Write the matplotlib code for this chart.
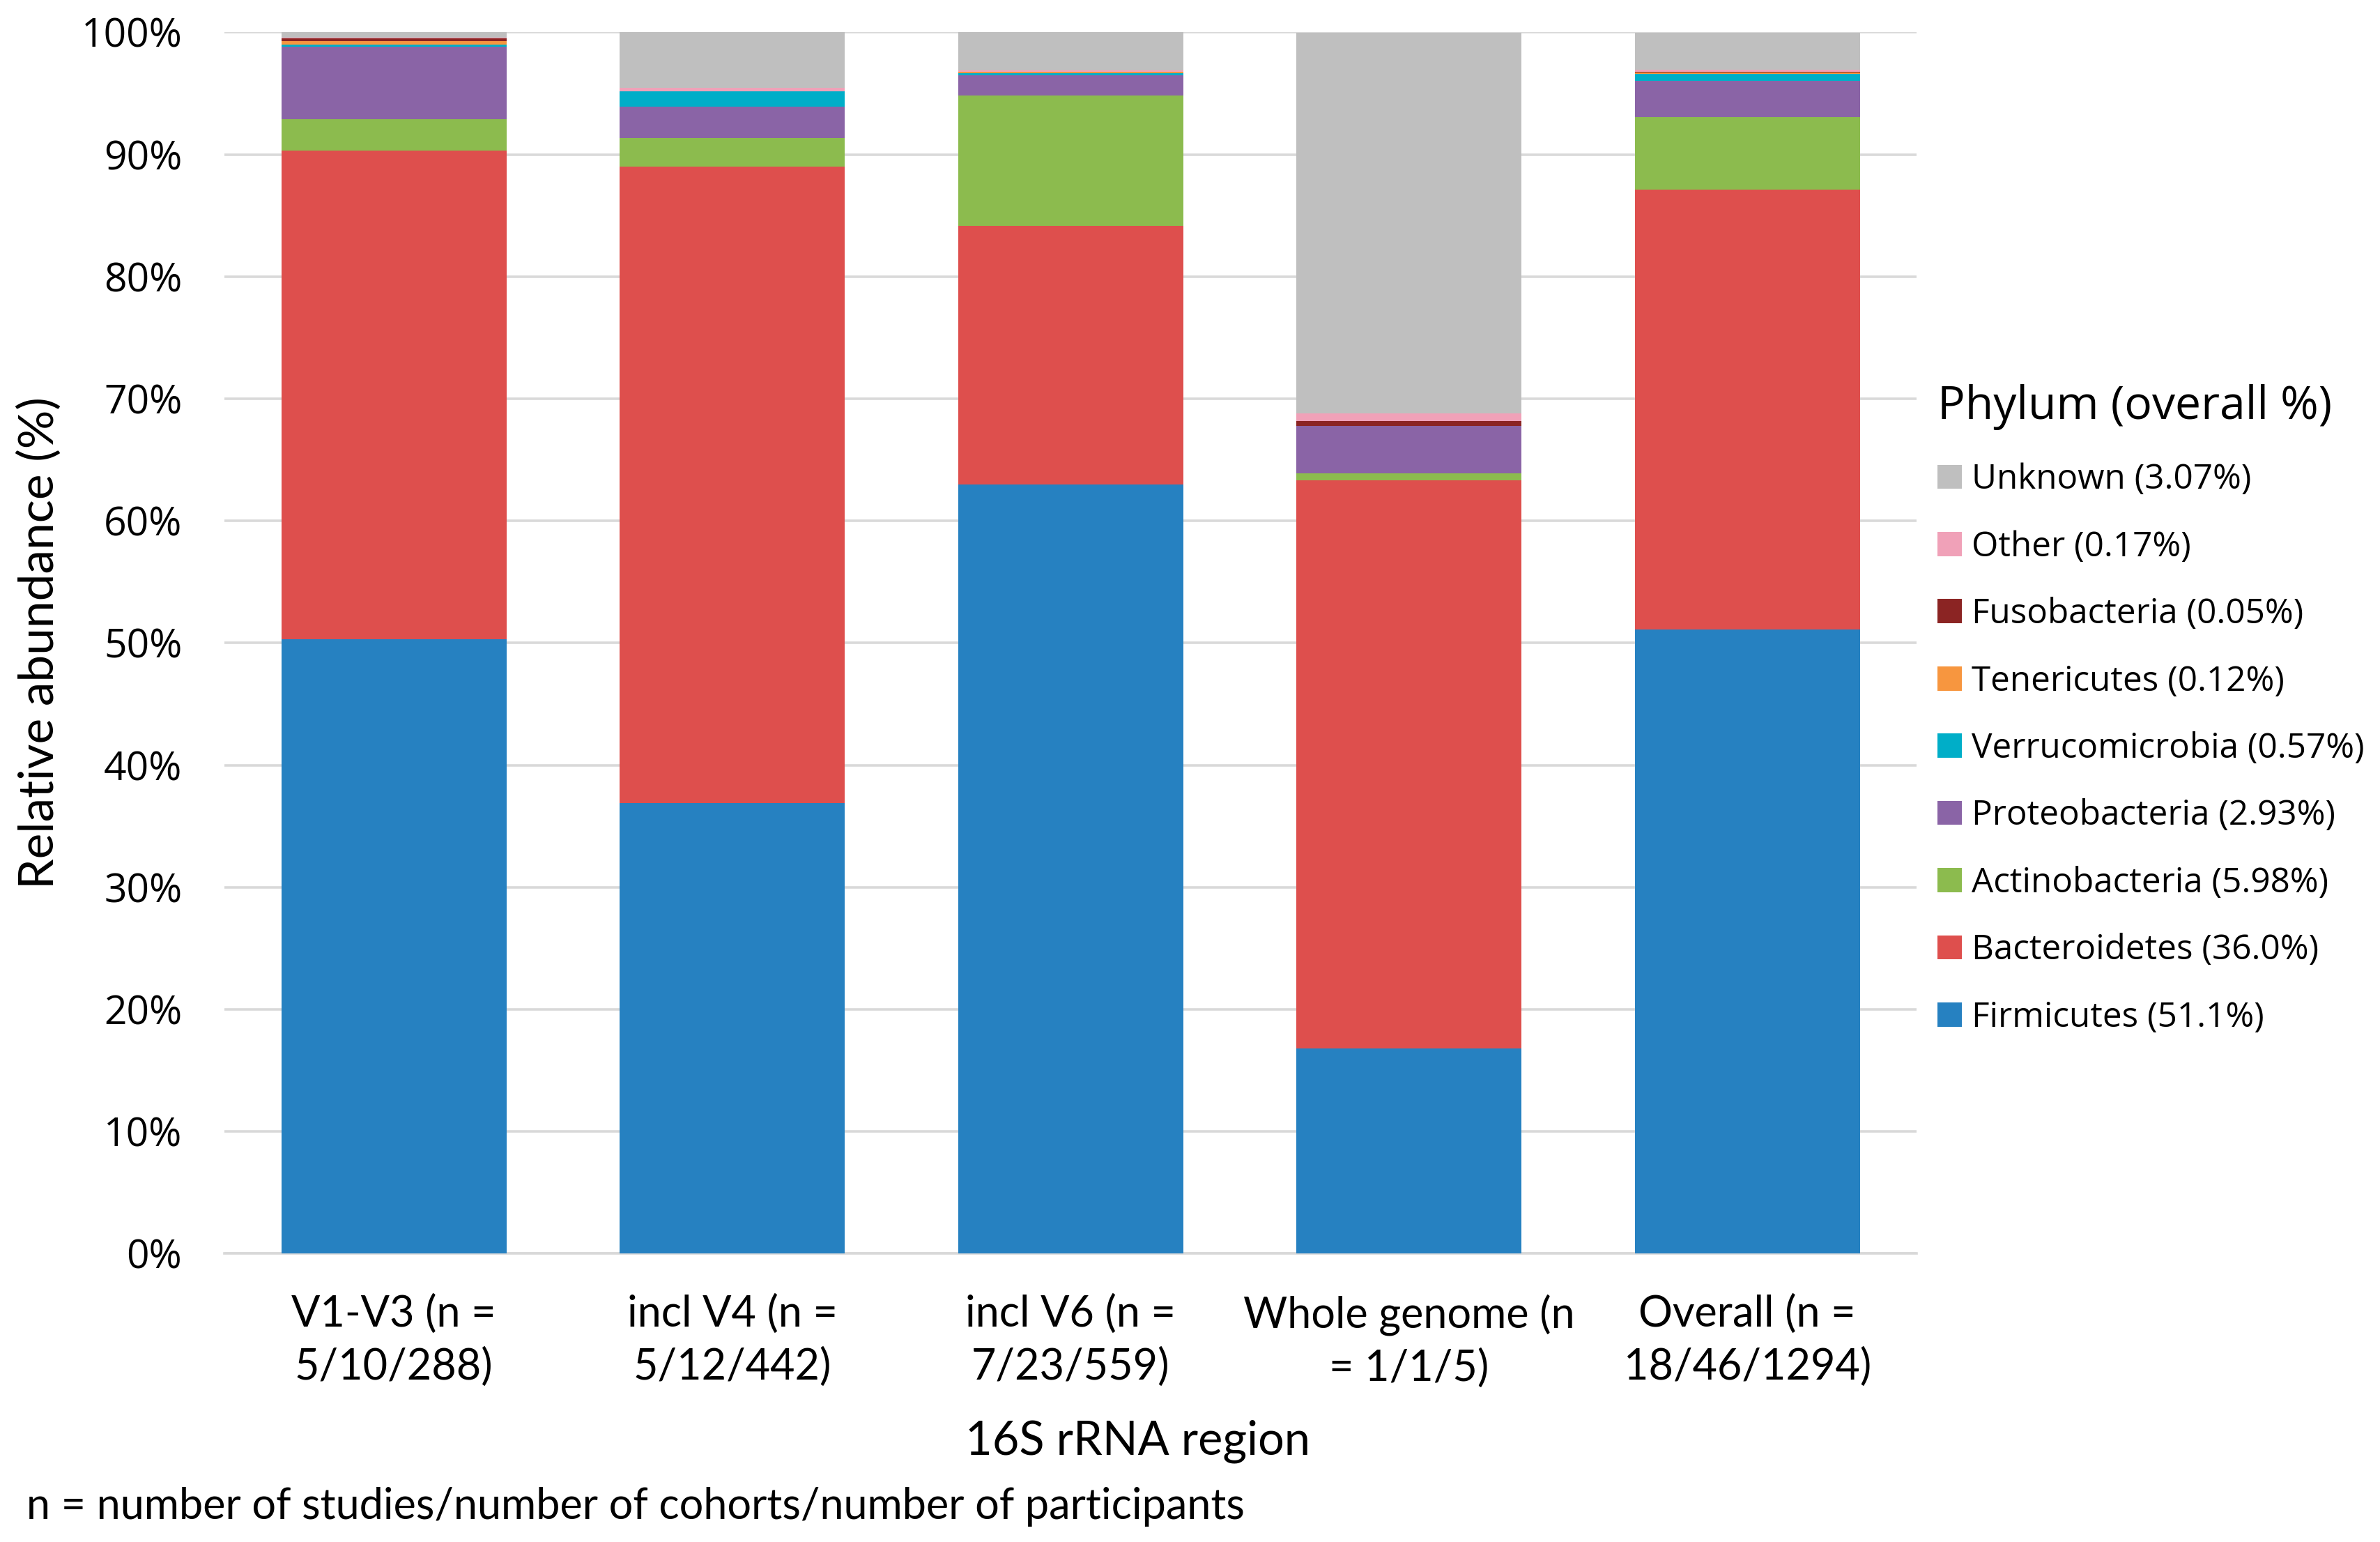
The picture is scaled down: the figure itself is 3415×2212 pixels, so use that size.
import numpy as np
import matplotlib
matplotlib.use("Agg")
import matplotlib.pyplot as plt
from matplotlib.patches import Patch

# ──────────────────────────────────────────────────────────────────
# Data (relative abundance, %)
# ──────────────────────────────────────────────────────────────────
regions = [
    "V1-V3 (n =\n5/10/288)",
    "incl V4 (n =\n5/12/442)",
    "incl V6 (n =\n7/23/559)",
    "Whole genome (n\n= 1/1/5)",
    "Overall (n =\n18/46/1294)",
]

firmicutes      = [50.3, 36.9, 63.0, 16.8, 51.1]
bacteroidetes   = [40.0, 52.1, 21.15, 46.5, 36.0]
actinobacteria  = [2.6, 2.33, 10.7, 0.6, 5.98]
proteobacteria  = [5.9, 2.56, 1.63, 3.88, 2.93]
verrucomicrobia = [0.17, 1.3, 0.17, 0.0, 0.57]
tenericutes     = [0.34, 0.0, 0.11, 0.0, 0.12]
fusobacteria    = [0.2, 0.0, 0.0, 0.4, 0.05]
other           = [0.07, 0.25, 0.13, 0.6, 0.17]
unknown         = [0.42, 4.56, 3.11, 31.2, 3.07]

phyla = [
    ("Firmicutes (51.1%)",      firmicutes,      "#2681C1"),
    ("Bacteroidetes (36.0%)",   bacteroidetes,   "#DE4F4D"),
    ("Actinobacteria (5.98%)",  actinobacteria,  "#8CBB4E"),
    ("Proteobacteria (2.93%)",  proteobacteria,  "#8A64A6"),
    ("Verrucomicrobia (0.57%)", verrucomicrobia, "#00AEC8"),
    ("Tenericutes (0.12%)",     tenericutes,     "#F7963F"),
    ("Fusobacteria (0.05%)",    fusobacteria,    "#8B2423"),
    ("Other (0.17%)",           other,           "#F0A1B8"),
    ("Unknown (3.07%)",         unknown,         "#BFBFBF"),
]

TICK_FONT  = ["Open Sans", "DejaVu Sans"]
TITLE_FONT = ["Lato", "DejaVu Sans"]

# ──────────────────────────────────────────────────────────────────
# Plot
# ──────────────────────────────────────────────────────────────────
fig = plt.figure(figsize=(17.08, 11.06), dpi=200)
ax = fig.add_axes([0.0944, 0.187, 0.7106, 0.792])

x = np.arange(len(regions))
bottom = np.zeros(len(regions))
handles = []
for label, vals, color in phyla:
    vals = np.array(vals)
    ax.bar(x, vals, bottom=bottom, width=0.665, color=color, zorder=3)
    bottom += vals
    handles.append(Patch(facecolor=color, label=label))

ax.set_xlim(-0.5, len(regions) - 0.5)
ax.set_ylim(0, 100)
ax.set_yticks(np.arange(0, 101, 10))
ax.set_yticklabels([f"{v}%" for v in range(0, 101, 10)], fontfamily=TICK_FONT, fontsize=20.5)
ax.set_xticks(x)
ax.set_xticklabels(regions, fontfamily=TITLE_FONT, fontsize=22, linespacing=1.4)
ax.tick_params(axis="both", length=0)
ax.tick_params(axis="x", pad=21)
ax.tick_params(axis="y", pad=22)
ax.grid(axis="y", color="#D9D9D9", linewidth=1.3, zorder=0)
for side in ["top", "right", "left"]:
    ax.spines[side].set_visible(False)
ax.spines["bottom"].set_color("#D9D9D9")
ax.spines["bottom"].set_linewidth(1.3)

ax.set_ylabel("Relative abundance (%)", fontfamily=TITLE_FONT, fontsize=25, labelpad=10)
fig.text(0.478, 0.065, "16S rRNA region", ha="center", va="center",
         fontfamily=TITLE_FONT, fontsize=24)
fig.text(0.011, 0.023, "n = number of studies/number of cohorts/number of participants",
         ha="left", va="center", fontfamily=TITLE_FONT, fontsize=22)

leg = fig.legend(handles=handles[::-1], loc="upper left", bbox_to_anchor=(0.808, 0.760),
                 frameon=False, title="Phylum (overall %)",
                 prop={"family": TICK_FONT, "size": 17.8},
                 handlelength=0.7, handleheight=0.7, handletextpad=0.3,
                 labelspacing=0.95, borderaxespad=0)
leg.get_title().set_fontfamily(TICK_FONT)
leg.get_title().set_fontsize(23.8)
leg._legend_box.align = "left"

fig.savefig("out.png", dpi=200, facecolor="white")
